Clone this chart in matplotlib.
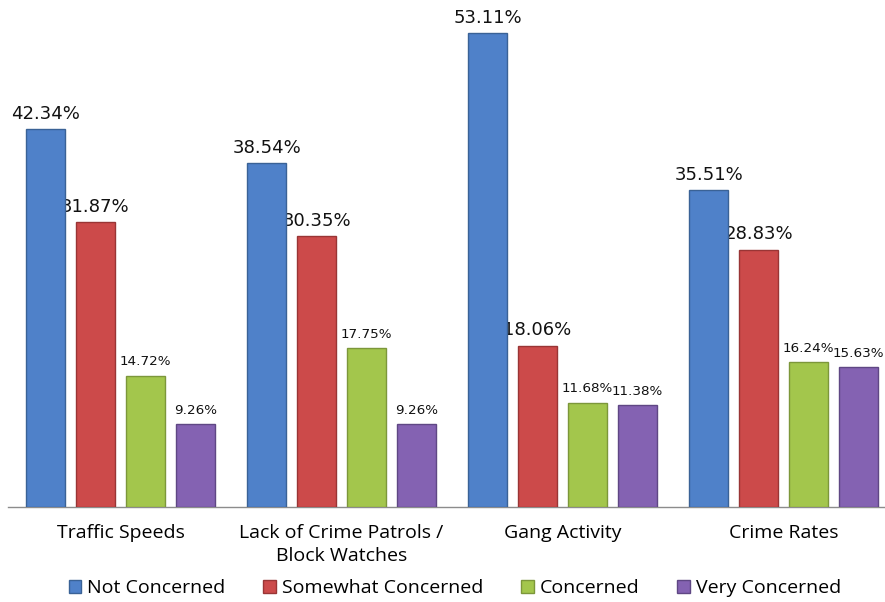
import matplotlib.pyplot as plt
from matplotlib.patches import Patch
import numpy as np

categories = ["Traffic Speeds", "Lack of Crime Patrols /\nBlock Watches",
              "Gang Activity", "Crime Rates"]
series = ["Not Concerned", "Somewhat Concerned", "Concerned", "Very Concerned"]
not_concerned = [42.34, 38.54, 53.11, 35.51]
somewhat_concerned = [31.87, 30.35, 18.06, 28.83]
concerned = [14.72, 17.75, 11.68, 16.24]
very_concerned = [9.26, 9.26, 11.38, 15.63]

colors = ["#4f81c9", "#cc4a4a", "#a3c64c", "#8462b2"]
edges = ["#3a6296", "#993535", "#7c973a", "#5f4784"]

values = [not_concerned, somewhat_concerned, concerned, very_concerned]

fig = plt.figure(figsize=(8.85, 6.02), dpi=100)
ax = fig.add_axes([0.009, 0.158, 0.991, 0.842])

x = np.arange(len(categories))
step = 0.226
width = 0.1765

for i, (vals, c, e) in enumerate(zip(values, colors, edges)):
    pos = x + (i - 1.5) * step
    ax.bar(pos, vals, width, color=c, edgecolor=e, linewidth=1, zorder=3)
    for p, v in zip(pos, vals):
        # smaller font for the short bars
        big = v > 18
        ax.annotate(f"{v:.2f}%", (p, v), xytext=(0, 7.5), textcoords="offset points",
                    ha="center", va="baseline", fontsize=13 if big else 9.7,
                    family="DejaVu Sans", color="#111111", zorder=1)

ax.set_xlim(-0.509, 3.459)
ax.set_ylim(0, 56.8)
ax.set_yticks([])
ax.set_xticks(x)
ax.set_xticklabels(categories, fontsize=14, family="Open Sans", linespacing=1.4)
ax.tick_params(axis="x", length=0, pad=12)
for s in ["top", "right", "left"]:
    ax.spines[s].set_visible(False)
ax.spines["bottom"].set_color("#8c8c8c")
ax.spines["bottom"].set_linewidth(1)

handles = [Patch(facecolor=c, edgecolor=e, label=s) for c, e, s in zip(colors, edges, series)]
fig.legend(handles=handles, loc="center", bbox_to_anchor=(0.514, 0.023), ncol=4,
           frameon=False, handlelength=0.65, handleheight=0.65, handletextpad=0.3,
           columnspacing=1.95, prop={"family": "Open Sans", "size": 14})

fig.savefig("out.png", dpi=100)
